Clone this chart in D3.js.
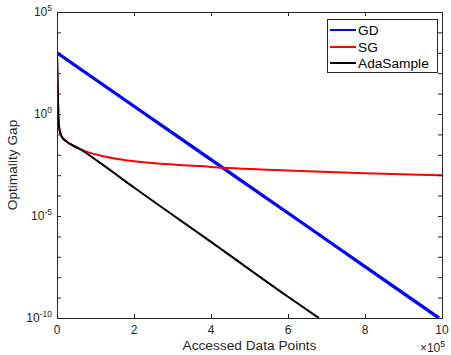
<!DOCTYPE html>
<html>
<head>
<meta charset="utf-8">
<script src="https://cdn.jsdelivr.net/npm/d3@7"></script>
<style>
  html, body { margin: 0; padding: 0; background: #fff; }
  svg { display: block; font-family: "Liberation Sans", Arial, Helvetica, sans-serif; }
</style>
</head>
<body>
<svg id="chart" width="451" height="355"></svg>
<script>
// ---- data (x = accessed data points, y = optimality gap) ----
const seriesNames = ["GD", "SG", "AdaSample"];
const seriesColors = ["#0000ff", "#ff0000", "#000000"];

const gdX = [0, 200000, 400000, 600000, 800000, 992000];
const gdY = [1000, 2.4, 5.8e-3, 1.4e-5, 3.3e-8, 1e-10];

const sgX = [0, 2600, 4000, 6500, 13000, 23000, 34000, 60000, 112000, 150000, 190000, 270000, 372000, 432000, 530000, 633000, 800000, 1000000];
const sgY = [980, 4.9, 0.51, 0.166, 0.074, 0.048, 0.034, 0.019, 0.0092, 0.0066, 0.0051, 0.0036, 0.0028, 0.0023, 0.0019, 0.0016, 0.00125, 0.001];

const adaX = [0, 2600, 4000, 6500, 13000, 23000, 34000, 60000, 112000, 200000, 400000, 600000, 680000];
const adaY = [980, 4.9, 0.51, 0.166, 0.074, 0.048, 0.034, 0.019, 0.004, 2.5e-4, 5.4e-7, 1.1e-9, 1e-10];

const xTickValues = [0, 200000, 400000, 600000, 800000, 1000000];
const xTickLabels = ["0", "2", "4", "6", "8", "10"];
const yTickValues = [1e5, 1e4, 1e3, 1e2, 1e1, 1e0, 1e-1, 1e-2, 1e-3, 1e-4, 1e-5, 1e-6, 1e-7, 1e-8, 1e-9, 1e-10];
const yLabelValues = [1e5, 1e0, 1e-5, 1e-10];
const yLabelExps = ["5", "0", "-5", "-10"];

// ---- layout ----
const L = 57, R = 442, T = 12, B = 318;
const axisColor = "#262626";

const svg = d3.select("#chart");
const x = d3.scaleLinear().domain([0, 1000000]).range([L, R]);
const y = d3.scaleLog().domain([1e-10, 1e5]).range([B, T]);

svg.append("defs").append("clipPath").attr("id", "clip")
  .append("rect").attr("x", L).attr("y", T).attr("width", R - L).attr("height", B - T);

svg.append("rect").attr("x", L).attr("y", T).attr("width", R - L).attr("height", B - T).attr("fill", "#fff");

// lines
const line = d3.line().x(d => x(d[0])).y(d => y(d[1])).curve(d3.curveMonotoneX);
const seriesData = [
  d3.zip(gdX, gdY),
  d3.zip(sgX, sgY),
  d3.zip(adaX, adaY)
];
const widths = [3.3, 2, 2];
const g = svg.append("g").attr("clip-path", "url(#clip)");
seriesData.forEach((data, i) => {
  g.append("path").datum(data)
    .attr("fill", "none")
    .attr("stroke", seriesColors[i])
    .attr("stroke-width", widths[i])
    .attr("stroke-linejoin", "round")
    .attr("d", line);
});

// axes (ticks inward)
const tickLen = 4;
const ax = svg.append("g");
ax.append("g").attr("transform", `translate(0,${B})`)
  .call(d3.axisBottom(x).tickValues(xTickValues).tickSize(-tickLen).tickFormat(""));
ax.append("g").attr("transform", `translate(0,${T})`)
  .call(d3.axisTop(x).tickValues(xTickValues).tickSize(-tickLen).tickFormat(""));
ax.append("g").attr("transform", `translate(${L},0)`)
  .call(d3.axisLeft(y).tickValues(yTickValues).tickSize(-tickLen).tickFormat(""));
ax.append("g").attr("transform", `translate(${R},0)`)
  .call(d3.axisRight(y).tickValues(yTickValues).tickSize(-tickLen).tickFormat(""));
ax.selectAll(".domain").attr("stroke", axisColor).attr("stroke-width", 1);
ax.selectAll(".tick line").attr("stroke", axisColor).attr("stroke-width", 1);

// x tick labels
svg.append("g").selectAll("text").data(xTickValues).join("text")
  .attr("x", d => x(d)).attr("y", B + 16)
  .attr("text-anchor", "middle")
  .attr("font-size", 12).attr("fill", axisColor)
  .text((d, i) => xTickLabels[i]);

// exponent multiplier
const mult = svg.append("text").attr("x", R + 3).attr("y", B + 34)
  .attr("text-anchor", "end").attr("font-size", 12).attr("fill", axisColor);
mult.append("tspan").text("\u00d710");
mult.append("tspan").attr("font-size", 8.5).attr("dy", -5).text("5");

// y tick labels
yLabelValues.forEach((v, i) => {
  const t = svg.append("text").attr("x", L - 5).attr("y", y(v) + 4)
    .attr("text-anchor", "end").attr("font-size", 12).attr("fill", axisColor);
  t.append("tspan").text("10");
  t.append("tspan").attr("font-size", 8.5).attr("dy", -5).text(yLabelExps[i]);
});

// axis titles
svg.append("text").attr("x", (L + R) / 2).attr("y", B + 32)
  .attr("text-anchor", "middle").attr("font-size", 13.7).attr("fill", axisColor)
  .text("Accessed Data Points");
svg.append("text")
  .attr("transform", `translate(17,${(T + B) / 2}) rotate(-90)`)
  .attr("text-anchor", "middle").attr("font-size", 13.7).attr("fill", axisColor)
  .text("Optimality Gap");

// legend
const lg = svg.append("g");
lg.append("rect").attr("x", 327.5).attr("y", 19.5).attr("width", 110).attr("height", 53)
  .attr("fill", "#fff").attr("stroke", axisColor).attr("stroke-width", 1);
const legY = [30, 47, 63];
seriesNames.forEach((n, i) => {
  lg.append("line").attr("x1", 330).attr("x2", 356).attr("y1", legY[i]).attr("y2", legY[i])
    .attr("stroke", seriesColors[i]).attr("stroke-width", 2);
  lg.append("text").attr("x", 358).attr("y", legY[i] + 5)
    .attr("font-size", 13.7).attr("fill", "#000").text(n);
});
</script>
</body>
</html>
